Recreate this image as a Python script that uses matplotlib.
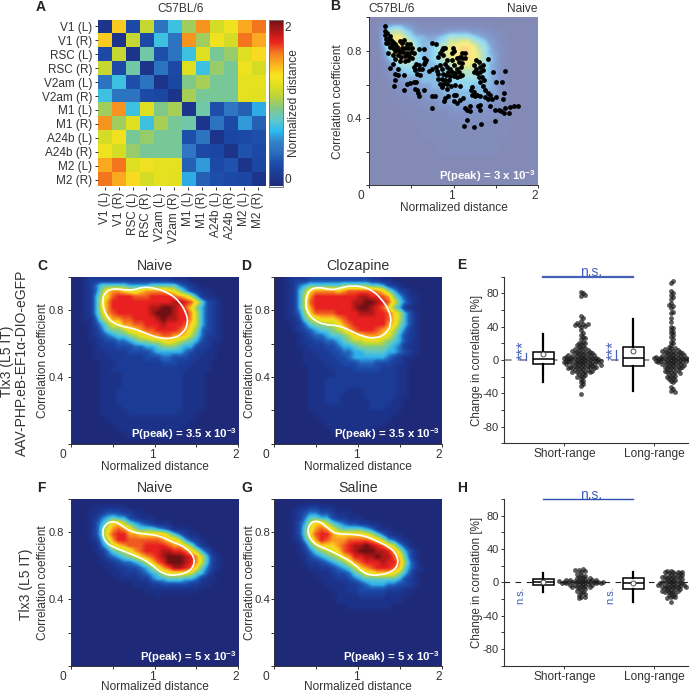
import numpy as np
import matplotlib
matplotlib.use("Agg")
import matplotlib.pyplot as plt
from matplotlib.colors import LinearSegmentedColormap
from matplotlib.path import Path
from matplotlib.patches import PathPatch
from matplotlib.transforms import ScaledTranslation

plt.rcParams['font.family'] = ['Liberation Sans', 'DejaVu Sans']
plt.rcParams['mathtext.fontset'] = 'custom'
plt.rcParams['mathtext.rm'] = 'Liberation Sans'
plt.rcParams['mathtext.bf'] = 'Liberation Sans:bold'
plt.rcParams['axes.unicode_minus'] = False

W, H = 691, 692
TXT = '#333333'
BLUE = '#4560b8'

# panel A
regions = ['V1 (L)', 'V1 (R)', 'RSC (L)', 'RSC (R)', 'V2am (L)', 'V2am (R)',
           'M1 (L)', 'M1 (R)', 'A24b (L)', 'A24b (R)', 'M2 (L)', 'M2 (R)']
distance = [
    [0.00, 1.42, 0.17, 1.12, 0.38, 0.68, 1.00, 1.58, 1.18, 1.32, 1.52, 1.66],
    [1.42, 0.00, 1.12, 0.17, 0.68, 0.38, 1.58, 1.00, 1.32, 1.18, 1.66, 1.52],
    [0.17, 1.12, 0.00, 0.85, 0.20, 0.38, 0.68, 1.22, 0.88, 0.98, 1.22, 1.38],
    [1.12, 0.17, 0.85, 0.00, 0.38, 0.17, 1.22, 0.68, 0.98, 0.88, 1.30, 1.18],
    [0.38, 0.68, 0.20, 0.38, 0.00, 0.14, 0.92, 1.02, 0.88, 0.88, 1.26, 1.26],
    [0.68, 0.38, 0.38, 0.17, 0.14, 0.00, 1.02, 0.88, 0.88, 0.88, 1.26, 1.24],
    [1.00, 1.58, 0.68, 1.22, 0.92, 1.02, 0.00, 0.84, 0.20, 0.40, 0.28, 0.58],
    [1.58, 1.00, 1.22, 0.68, 1.02, 0.88, 0.84, 0.00, 0.38, 0.17, 0.54, 0.28],
    [1.18, 1.32, 0.88, 0.98, 0.88, 0.88, 0.20, 0.38, 0.00, 0.14, 0.17, 0.20],
    [1.32, 1.18, 0.98, 0.88, 0.88, 0.88, 0.40, 0.17, 0.14, 0.00, 0.22, 0.17],
    [1.52, 1.66, 1.22, 1.30, 1.26, 1.26, 0.28, 0.54, 0.17, 0.22, 0.00, 0.15],
    [1.66, 1.52, 1.38, 1.18, 1.26, 1.24, 0.58, 0.28, 0.20, 0.17, 0.15, 0.00],
]

# density maps, one hex digit per cell, rows from y=1 down to y=0
density_b = """
0000000000 0000000000 0000000000
0124554321 1111111111 1100000000
0147886532 2223444433 2211000000
0158aa8655 4456777765 4321100000
0158acb865 5567 99aa87 6431100000
0147acc975 5679abccb8 7532100000
0036 9bb975 5679abccb9 7542100000
00257 99866 5678 9bccb9 7642100000
0013577765 5567 89aa98 7542100000
0012456665 5566788887 6542100000
0012345555 5556677776 6542100000
0001234445 5555666666 5542100000
0001123344 4555556655 5542100000
0000122233 4445555555 5442100000
0000111222 3344455555 5432100000
0000011112 2233444444 4322100000
0000001111 1122233333 3221100000
0000000111 1111222222 2221100000
0000000011 1111112222 2111110000
0000000001 1111111111 1111100000
0000000001 1111111111 1111100000
0000000001 1111111111 1111100000
0000000000 0011111111 1110000000
0000000000 0011111111 1110000000
0000000000 0011111111 1110000000
0000000000 0000000000 0000000000
0000000000 0000000000 0000000000
0000000000 0000000000 0000000000
0000000000 0000000000 0000000000
0000000000 0000000000 0000000000
"""
density_c = """
0012222222 2222222211 1000000000
0012466666 5555666664 3210000000
001247abba 99abbbba97 5321100000
001258acdd dcccddddcb a852110000
001259bddd ddddddddee dc96321000
001259bddd ddddeeffed ca75321000
001258bcdd ddddefffed db85321000
0011479bbc cdddd efeed db85321000
0001357 99b bccddde ddd ca85321000
0001246778 aabccdddd c b97432100 0
0001234566 789abbccbb a864221000
0001123344 5677889a98 7653211000
0000122233 3445567776 5532210000
0000112222 3333455555 4322110000
0000111222 2223334433 3221110000
0000011122 2222223332 2211100000
0000011222 2222222222 2111100000
0000011112 2222222222 1111000000
0000011112 2222222222 1111000000
0000011112 2222222222 1111000000
0000011122 2222222222 1111000000
0000011122 2222222222 1111000000
0000011122 2222222222 1111000000
0000011112 2222222222 1111000000
0000011111 2222222221 1110000000
0000001111 1111111111 1100000000
0000000111 1111111111 1000000000
0000000011 1111111111 0000000000
0000000000 1111111100 0000000000
0000000000 0000000000 0000000000
"""
density_d = """
0012223333 3333333221 1000000000
0012456666 6677777665 3210000000
001257abbb bab cccccba 7532100000
001258bddd dddddeeddc b753110000
001258cddd ddddeeffed c964210000
001258bddd ddddeffed c a752100000
001247accc cddddeeedd ca85310000
0011368 9aa abcddddddd ca85310000
0001246778 89bcdddddd ba75310000
0001234566 789bcdddcb a864210000
0000123445 6678aabbba 9753210000
0000122334 4567889998 7653210000
0000112223 3455677777 6542110000
0000011222 3344556666 5543210000
0000011122 2334555555 4321100000
0000011112 2233344433 3221000000
0000001111 2222333332 2211000000
0000001111 1222222222 2211000000
0000001112 2222222222 2211000000
0000001112 2222222222 2211000000
0000001112 2221112222 2211000000
0000001112 2211112222 2211000000
0000001112 2211111222 2110000000
0000001111 1111111222 1110000000
0000000111 1111111111 1100000000
0000000011 1111111111 1000000000
0000000001 1111111111 0000000000
0000000000 1111111100 0000000000
0000000000 0000000000 0000000000
0000000000 0000000000 0000000000
"""
density_f = """
0000000000 0000000000 0000000000
0000111111 0000000000 0000000000
0001123332 2110000000 0000000000
0001245655 3211100000 0000000000
000135 7aa8 6543211100 0000000000
000136 9bcb a766654311 1000000000
000136acdd bbaaaaa864 2110000000
0001258bdd ccccccbaa8 5321000000
0000146 9ab cccddddcbb 9742100000
0000124678 9bcdddeedd ca85310000
0000013456 78abcdefff edb8521000
0000011234 4568acdfff edb8521000
0000001122 33457 9bcee dc96421000
0000000112 2234568999 9865310000
0000000011 1122455666 5542110000
0000000000 0111223333 3221100000
0000000000 0001111111 1110000000
0000000000 0000010000 0000000000
0000000000 0000000000 0000000000
0000000000 0000000000 0000000000
0000000000 0000000000 0000000000
0000000000 0000000000 0000000000
0000000000 0000000000 0000000000
0000000000 0000000000 0000000000
0000000000 0000000000 0000000000
0000000000 0000000000 0000000000
0000000000 0000000000 0000000000
0000000000 0000000000 0000000000
0000000000 0000000000 0000000000
0000000000 0000000000 0000000000
"""
density_g = """
0000000000 0000000000 0000000000
0000112211 1000000000 0000000000
0001234433 2111000000 0000000000
0001246655 3221110000 0000000000
000135 8aa8 6543322110 0000000000
000136 9bcb 9766665421 1000000000
000136acdd baaaaa9864 2110000000
0001258bdc bbbccccba8 5421000000
0000136 8aa abcdeefedc a853100000
0000124678 9acdefffee db85310000
0000013456 78abddeefe eca6310000
0000012234 5679bcddde ddb7420000
0000001122 34568abcdd dca6421000
0000000111 2334679 9aa a975310000
0000000011 1223456666 6653210000
0000000001 1112234555 4433210000
0000000000 1112233333 2221100000
0000000000 0111122222 1111000000
0000000000 0111111111 1110000000
0000000000 0001111111 1000000000
0000000000 0000000000 0000000000
0000000000 0000000000 0000000000
0000000000 0000000000 0000000000
0000000000 0000000000 0000000000
0000000000 0000000000 0000000000
0000000000 0000000000 0000000000
0000000000 0000000000 0000000000
0000000000 0000000000 0000000000
0000000000 0000000000 0000000000
0000000000 0000000000 0000000000
"""

# white half-peak outlines
outline_c_x = [.37, .41, .51, .65, .75, .87, 1.02, 1.18, 1.30, 1.38, 1.40, 1.34, 1.22, 1.06, .90, .75, .63, .51, .41]
outline_c_y = [.86, .91, .93, .92, .92, .94, .93, .90, .85, .78, .72, .66, .63, .63, .66, .69, .70, .72, .77]
outline_d_x = [.37, .41, .53, .67, .77, .94, 1.14, 1.28, 1.38, 1.40, 1.34, 1.22, 1.06, .90, .75, .61, .47, .39]
outline_d_y = [.85, .92, .94, .92, .93, .95, .93, .87, .79, .72, .66, .63, .64, .68, .71, .71, .74, .79]
outline_f_x = [.37, .41, .51, .61, .73, .90, 1.06, 1.22, 1.38, 1.49, 1.44, 1.26, 1.10, .98, .87, .67, .51, .41]
outline_f_y = [.80, .85, .87, .84, .80, .79, .78, .74, .71, .64, .57, .54, .55, .60, .64, .68, .71, .74]
outline_g_x = [.39, .43, .53, .63, .73, .90, 1.08, 1.22, 1.42, 1.49, 1.44, 1.24, 1.08, .96, .83, .63, .47]
outline_g_y = [.80, .86, .87, .83, .79, .79, .78, .75, .70, .63, .57, .54, .55, .61, .65, .70, .73]

# panel B points
pts_x = [.19,.19,.21,.19,.24,.20,.225,.195,.255,.225,.285,.265,.305,.245,.285,.325,.365,.415,.39,.445,.485,.385,.425,.465,.505,
         .225,.305,.345,.365,.405,.445,.49,.525,.59,.645,.285,.335,.375,.425,.47,.505,.305,.365,.425,.465,.28,.245,.345,.30,.345,.30,.415,.295,.415,
         .65,.675,.55,.59,.535,.645,.66,.545,.585,.63,.565,.60,.525,.555,.485,.445,.545,.565,.575,.65,.59,
         .75,.79,.88,.86,.84,.90,.99,1.0,.98,.82,.88,.92,.98,1.04,1.08,1.10,1.14,1.10,1.14,1.06,1.10,1.09,
         .71,.75,.79,.84,.90,.80,.86,.92,.96,1.0,1.04,.94,.98,1.02,1.06,1.10,1.08,.82,.87,.915,.96,1.0,1.04,
         .81,.86,.90,.95,.84,.88,.92,.97,1.02,1.08,.86,.92,.74,.775,.74,.90,.94,.89,1.0,1.03,1.08,1.0,1.11,1.04,
         1.27,1.30,1.41,1.24,1.27,1.32,1.35,1.24,1.28,1.32,1.345,1.30,1.34,1.36,1.32,1.345,1.22,1.21,1.24,1.22,1.25,1.28,1.32,1.38,1.41,1.435,1.38,1.415,1.455,1.505,
         1.475,1.615,1.505,1.575,1.60,1.585,
         1.14,1.20,1.16,1.20,1.29,1.32,1.32,1.43,1.495,1.535,1.565,1.605,1.615,1.655,1.675,1.715,1.765,1.165,1.12,1.24,1.33,1.49]
pts_y = [.95,.92,.905,.895,.89,.87,.87,.85,.865,.85,.855,.84,.84,.825,.82,.825,.86,.865,.845,.84,.84,.82,.815,.815,.82,
         .785,.80,.805,.795,.795,.79,.795,.785,.81,.81,.775,.775,.765,.77,.77,.76,.75,.74,.74,.745,.725,.70,.695,.66,.655,.625,.655,.59,.565,
         .755,.745,.72,.715,.705,.725,.735,.685,.69,.69,.665,.655,.615,.615,.61,.605,.575,.565,.55,.565,.53,
         .845,.84,.815,.805,.79,.82,.82,.80,.785,.765,.775,.745,.745,.755,.765,.785,.79,.755,.76,.735,.73,.705,
         .68,.695,.705,.715,.725,.68,.695,.705,.695,.715,.695,.675,.675,.67,.675,.655,.65,.66,.665,.655,.65,.65,.645,
         .635,.63,.625,.625,.605,.605,.605,.59,.595,.59,.585,.575,.53,.53,.46,.52,.53,.50,.54,.535,.51,.50,.52,.49,
         .745,.735,.75,.715,.695,.705,.715,.675,.67,.675,.685,.645,.645,.625,.615,.59,.585,.565,.555,.54,.53,.54,.53,.565,.55,.535,.525,.515,.515,.525,
         .675,.68,.615,.615,.55,.515,
         .46,.47,.45,.44,.47,.48,.45,.47,.45,.45,.445,.43,.46,.43,.465,.47,.47,.39,.355,.345,.365,.38]

# panels E and H
stats_e = [dict(q1=-5, med=1, q3=10, whislo=-26, whishi=31, mean=7, fliers=[]),
           dict(q1=-7, med=3, q3=16, whislo=-37, whishi=49, mean=11, fliers=[])]
stats_h = [dict(q1=-3.5, med=0, q3=3.5, whislo=-11, whishi=11, mean=0, fliers=[]),
           dict(q1=-8.5, med=-1, q3=5.5, whislo=-24, whishi=13, mean=-1, fliers=[])]
swarm_e_short = [82,80,78,77,53,50,47,44,43,43,42,42,41,40,36,33,30,28,26,25,22,21,20,19,18,17,16,15,14,13,12,12,11,11,10,10,9,9,8,8,7,7,6,6,6,5,5,5,4,4,4,3,3,3,3,2,2,2,2,1,1,1,1,0,0,0,0,
                 -1,-1,-1,-1,-2,-2,-2,-2,-3,-3,-3,-3,-4,-4,-4,-5,-5,-5,-5,-6,-6,-6,-7,-7,-7,-8,-8,-8,-9,-9,-9,-10,-10,-10,-11,-11,-12,-12,-13,-13,-14,-14,-15,-15,-16,-17,-18,-19,-20,-21,-23,-25,-27,-29,-31,-41]
swarm_e_long = [95,93,83,81,78,76,73,68,66,65,62,58,56,50,46,40,38,36,34,32,30,28,25,22,20,18,16,15,14,13,12,12,11,11,10,10,9,9,8,8,7,7,6,6,5,5,5,4,4,4,3,3,3,3,2,2,2,2,1,1,1,1,0,0,0,0,
                -1,-1,-1,-1,-2,-2,-2,-3,-3,-3,-4,-4,-5,-5,-5,-6,-6,-7,-7,-8,-8,-9,-9,-10,-10,-11,-12,-12,-13,-14,-15,-15,-16,-17,-18,-19,-20,-21,-22,-23,-24,-25,-27,-33,-35,-37,-38]
swarm_h_short = [16,15,15,14,13,10,9,8,7,6,5,5,4,4,3,3,3,3,2,2,2,2,2,1,1,1,1,1,0,0,0,0,0,-1,-1,-1,-1,-2,-2,-2,-3,-3,-3,-4,-4,-5,-5,-6,-6,-7,-8,-9,-10,-11,-13,-14,-15,-17,-18,-19]
swarm_h_long = [14,14,13,13,12,12,11,11,10,9,9,8,8,7,7,6,6,5,5,4,4,3,3,2,2,1,1,0,0,0,-1,-1,-2,-2,-2,-3,-3,-3,-4,-4,-4,-5,-5,-5,-6,-6,-7,-7,-8,-8,-9,-9,-10,-10,-11,-11,-12,-13,-14,-15,-16,-18,-18,-19,-24]

cmap = LinearSegmentedColormap.from_list('map', [
    '#1e2a78', '#1c3a92', '#1b4ba8', '#2a6cbc', '#3383c8', '#2cbcf0', '#60c8c8', '#80c888',
    '#b8d240', '#dcdf20', '#f8e420', '#fbb020', '#f47c20', '#e8231f', '#b01818', '#6e1014'])
cmap_density = LinearSegmentedColormap.from_list('dens', [
    '#1e2a78', '#1c3188', '#1c3b96', '#1b4aa8', '#2468bc', '#2fb0ea', '#5cc8cc', '#86cc84',
    '#bcd63e', '#e6e020', '#f8d820', '#fb9a20', '#f05a20', '#e8201f', '#b01818', '#6e1014'])


def add_ax(x0, y0, x1, y1):
    return fig.add_axes([x0 / W, 1 - y1 / H, (x1 - x0) / W, (y1 - y0) / H])


def parse(text):
    rows = [r.replace(' ', '') for r in text.strip().splitlines()]
    return np.array([[int(c, 16) for c in r] for r in rows])


def shift_labels(ax, dx_px):
    # the 0 1 2 labels sit a little left of their ticks
    for lab, dx in zip(ax.get_xticklabels(), dx_px):
        lab.set_transform(lab.get_transform() + ScaledTranslation(dx / 100, 0, fig.dpi_scale_trans))


def density_panel(ax, grid, alpha=1.0, ypad=3, ysize=8.0, vmax=15):
    ax.imshow(parse(grid), cmap=cmap_density, vmin=0, vmax=vmax, extent=[0, 2, 0, 1], aspect='auto',
              interpolation='bilinear', interpolation_stage='data', alpha=alpha)
    ax.set_xlim(0, 2)
    ax.set_ylim(0, 1)
    ax.set_xticks([0, 1, 2])
    ax.set_xticks([.5, 1.5], minor=True)
    ax.set_yticks([.4, .8])
    ax.set_yticklabels(['0.4', '0.8'])
    ax.set_yticks([0, .2, .6, 1], minor=True)
    ax.tick_params(which='both', length=2, width=.7, color='#333333', labelcolor=TXT)
    ax.tick_params(axis='y', labelsize=ysize, pad=ypad)
    ax.tick_params(axis='x', labelsize=8.6, pad=1.5)
    ax.set_xticklabels(['0', '1', '2'])
    shift_labels(ax, [-8, -2, -3])
    for s in ['top', 'right']:
        ax.spines[s].set_visible(False)
    for s in ['left', 'bottom']:
        ax.spines[s].set_linewidth(.7)
        ax.spines[s].set_color('#333333')


def outline(ax, xs, ys):
    pts = np.column_stack([xs, ys])
    mids = (pts + np.roll(pts, -1, axis=0)) / 2
    verts = [mids[-1]]
    codes = [Path.MOVETO]
    for p, m in zip(pts, mids):
        verts += [p, m]
        codes += [Path.CURVE3, Path.CURVE3]
    ax.add_patch(PathPatch(Path(verts, codes), fill=False, ec='white', lw=1.2))


def peak_label(ax, val):
    ax.text(.99, .055, 'P(peak) = %s x 10$^{\\mathbf{-3}}$' % val, color='white', fontweight='bold',
            fontsize=8.2, ha='right', va='center', transform=ax.transAxes)


def swarm(vals, min_dist, scale=.835):
    # pack points sideways in pixels, densest first
    vals = sorted(vals, key=abs)
    placed = []
    out = []
    for v in vals:
        py = v * scale
        k = 0
        while True:
            dx = ((k + 1) // 2) * min_dist * .8 * (1 if k % 2 else -1)
            if all((dx - a) ** 2 + (py - b) ** 2 >= min_dist ** 2 for a, b in placed):
                break
            k += 1
        placed.append((dx, py))
        out.append(dx / 90)
    return np.array(out), np.array(vals)


def change_panel(ax, stats, short_vals, long_vals, dash, min_dist):
    ax.axhline(0, color=dash[0], lw=dash[1], dashes=(5, 5), zorder=1)
    ax.bxp(stats, positions=[.767, 1.767], widths=.235, showmeans=True, meanline=False, showfliers=False,
           showcaps=False, patch_artist=True, manage_ticks=False,
           boxprops=dict(facecolor='white', edgecolor='black', linewidth=1.1),
           medianprops=dict(color='black', linewidth=1.1),
           whiskerprops=dict(color='black', linewidth=1.6),
           meanprops=dict(marker='o', markerfacecolor='white', markeredgecolor='#333333',
                          markeredgewidth=.6, markersize=3.6), zorder=3)
    for centre, vals in [(1.186, short_vals), (2.186, long_vals)]:
        off, ys = swarm(vals, min_dist)
        ax.scatter(centre + off, ys, s=12, color='#1a1a1a', alpha=.72, linewidths=0, zorder=4)
    ax.set_xlim(.333, 2.374)
    ax.set_ylim(-100, 100)
    ax.set_xticks([1, 2])
    ax.set_xticklabels(['Short-range', 'Long-range'])
    ax.set_yticks([-80, -40, 0, 40, 80])
    ax.set_yticks([-100, -60, -20, 20, 60, 100], minor=True)
    ax.tick_params(which='both', length=2, width=.7, color='#333333', labelcolor=TXT)
    ax.tick_params(axis='y', labelsize=8, pad=2)
    ax.tick_params(axis='x', labelsize=8.6, pad=1.5)
    ax.set_ylabel('Change in correlation [%]', fontsize=8.4, color=TXT, labelpad=0)
    for s in ['top', 'right']:
        ax.spines[s].set_visible(False)
    for s in ['left', 'bottom']:
        ax.spines[s].set_linewidth(.8)
        ax.spines[s].set_color('#333333')


fig = plt.figure(figsize=(W / 100, H / 100), dpi=100)


def letter(x, y, s):
    fig.text(x / W, 1 - y / H, s, fontsize=10, fontweight='bold', color='#222222', ha='center', va='center')


def ftext(x, y, s, **kw):
    kw.setdefault('color', TXT)
    kw.setdefault('fontsize', 8.6)
    fig.text(x / W, 1 - y / H, s, ha=kw.pop('ha', 'center'), va=kw.pop('va', 'center'), **kw)


# A
ax_a = add_ax(97.7, 19.5, 265, 186.5)
im = ax_a.imshow(distance, cmap=cmap, vmin=-.11, vmax=2.09, aspect='auto', interpolation='nearest')
ax_a.set_xticks(range(12))
ax_a.set_xticklabels(regions, rotation=90)
ax_a.set_yticks(range(12))
ax_a.set_yticklabels(regions)
ax_a.tick_params(length=2, width=.7, color='#333333', labelcolor=TXT, labelsize=8.5, pad=2)
for s in ax_a.spines.values():
    s.set_visible(False)
ax_cb = add_ax(269.3, 19.5, 282.7, 186.5)
cb = fig.colorbar(im, cax=ax_cb)
cb.set_ticks([0, 2])
cb.ax.tick_params(length=0, labelsize=8.6, labelcolor=TXT, pad=1)
cb.outline.set_edgecolor('#777777')
cb.outline.set_linewidth(.7)
cb.set_label('Normalized distance', fontsize=8.6, color=TXT, labelpad=-2)
letter(41, 7, 'A')
ftext(181, 9, 'C57BL/6')

# B
ax_b = add_ax(369.3, 17.3, 537.7, 185.3)
density_panel(ax_b, density_b, alpha=.55, vmax=17)
ax_b.scatter(pts_x, pts_y, s=12, color='black', linewidths=0, zorder=3)
ax_b.set_ylabel('Correlation coefficient', fontsize=8.6, color=TXT, labelpad=2)
ax_b.set_xlabel('Normalized distance', fontsize=8.6, color=TXT, labelpad=0)
peak_label(ax_b, '3')
letter(335, 6, 'B')
ftext(368, 9, 'C57BL/6', ha='left')
ftext(537.7, 9, 'Naive', ha='right')

# C D F G
panels = [(add_ax(71, 276.7, 238.3, 443.7), density_c, outline_c_x, outline_c_y, '3.5', 'Naive', 'C', 42, 3, 8.0, 0, 0),
          (add_ax(274.3, 276.7, 441.7, 443.7), density_d, outline_d_x, outline_d_y, '3.5', 'Clozapine', 'D', 246, .5, 8.2, -1, 0),
          (add_ax(71, 499, 238.3, 666), density_f, outline_f_x, outline_f_y, '5', 'Naive', 'F', 41, 3, 8.0, 0, -1),
          (add_ax(274.3, 499, 441.7, 666), density_g, outline_g_x, outline_g_y, '5', 'Saline', 'G', 247, .5, 8.2, -1, -1)]
for ax, grid, ox, oy, peak, name, let, let_x, ypad, ysize, ylab_pad, xlab_pad in panels:
    density_panel(ax, grid, ypad=ypad, ysize=ysize)
    outline(ax, ox, oy)
    peak_label(ax, peak)
    ax.set_ylabel('Correlation coefficient', fontsize=8.6, color=TXT, labelpad=ylab_pad)
    ax.set_xlabel('Normalized distance', fontsize=8.6, color=TXT, labelpad=xlab_pad)
    top = ax.get_position().y1 * H
    ftext((ax.get_position().x0 + ax.get_position().x1) / 2 * W, H - top - 10.5, name, fontsize=10.2)
    letter(let_x, H - top - 11, let)

ftext(7, 361, 'Tlx3 (L5 IT)', rotation=90, fontsize=10)
ftext(22, 363, 'AAV-PHP.eB-EF1\u03b1-DIO-eGFP', rotation=90, fontsize=10)
ftext(26, 584, 'Tlx3 (L5 IT)', rotation=90, fontsize=10)

# E
ax_e = add_ax(504.3, 276.7, 688, 443.3)
change_panel(ax_e, stats_e, swarm_e_short, swarm_e_long, ('#777777', 1.1), 2.7)
ax_e.plot([.767, 1.767], [100, 100], color=BLUE, lw=1.6, clip_on=False, zorder=5)
ax_e.text(1.297, 106, 'n.s.', color=BLUE, fontsize=10, ha='center', va='center')
for x, bar_top in [(.516, 8), (1.516, 12)]:
    ax_e.text(x + .03, 12, '***', color=BLUE, fontsize=12, rotation=90, ha='center', va='center')
    ax_e.plot([x + .055, x + .055], [0, bar_top], color=BLUE, lw=.9)
letter(462, 265, 'E')

# H
ax_h = add_ax(504.3, 499, 688, 665.7)
change_panel(ax_h, stats_h, swarm_h_short, swarm_h_long, ('#222222', .8), 2.7)
ax_h.plot([.767, 1.767], [100, 100], color='#3050b0', lw=1, clip_on=False, zorder=5)
ax_h.text(1.297, 105, 'n.s.', color=BLUE, fontsize=10, ha='center', va='center')
for x in [.516, 1.516]:
    ax_h.text(x, -15.5, 'n.s.', color=BLUE, fontsize=8, rotation=90, ha='center', va='center')
letter(462, 488, 'H')

fig.savefig('out.png', dpi=100)
